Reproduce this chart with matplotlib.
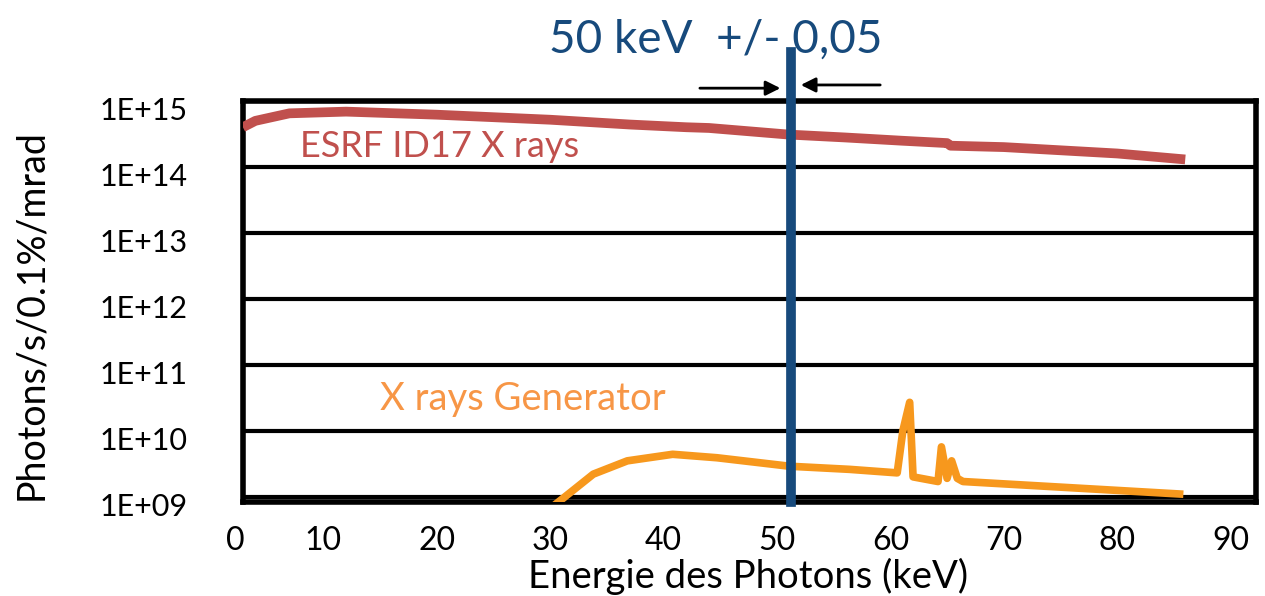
import matplotlib.pyplot as plt
from matplotlib.ticker import NullLocator
from matplotlib.transforms import ScaledTranslation

plt.rcParams['font.family'] = ['Lato', 'DejaVu Sans']

# ESRF ID17 synchrotron spectrum (keV, photons/s/0.1%/mrad)
esrf_kev = [2.9, 4.0, 7.0, 12.0, 20.0, 30.0, 37.0, 42.0, 44.0, 51.0, 56.0, 61.0, 65.0, 65.3, 70.0, 80.0, 86.0]
esrf_flux = [4.0e14, 5.0e14, 6.5e14, 6.9e14, 6.2e14, 5.2e14, 4.4e14, 4.0e14, 3.9e14, 3.1e14,
             2.8e14, 2.5e14, 2.3e14, 2.1e14, 2.0e14, 1.6e14, 1.3e14]

# X ray tube generator spectrum
gen_kev = [30.4, 33.8, 36.8, 40.8, 44.7, 51.1, 56.4, 60.6, 61.1, 61.7, 62.0, 64.2, 64.5, 65.0,
           65.4, 65.9, 66.4, 85.5]
gen_flux = [7.5e8, 2.2e9, 3.5e9, 4.4e9, 3.9e9, 2.9e9, 2.6e9, 2.3e9, 1.0e10, 2.7e10, 2.0e9,
            1.7e9, 5.7e9, 1.9e9, 3.5e9, 1.9e9, 1.7e9, 1.1e9]

selected_kev = 51.2
x_ticks = [10, 20, 30, 40, 50, 60, 70, 80, 90]
y_ticks = [1e9, 1e10, 1e11, 1e12, 1e13, 1e14, 1e15]
y_labels = ['1E+09', '1E+10', '1E+11', '1E+12', '1E+13', '1E+14', '1E+15']

fig = plt.figure(figsize=(12.65, 5.96), dpi=100)
ax = fig.add_axes([243 / 1265, 94 / 596, 1013 / 1265, 401 / 596])

ax.plot(esrf_kev, esrf_flux, color='#C0504D', lw=7, solid_capstyle='butt', zorder=3)
ax.plot(gen_kev, gen_flux, color='#F7981D', lw=5.5, solid_joinstyle='round', zorder=3)
ax.axvline(selected_kev, ymin=0, ymax=(502 - 52) / 401, color='#174A7C', lw=7,
           clip_on=False, zorder=4)

ax.set_yscale('log')
ax.set_xlim(2.91, 92.24)
ax.set_ylim(10 ** 8.92, 10 ** 14.98)
ax.set_yticks(y_ticks)
ax.set_yticklabels(y_labels)
ax.yaxis.set_minor_locator(NullLocator())
ax.set_xticks(x_ticks)
ax.set_xticklabels([str(v) for v in x_ticks])
ax.tick_params(axis='y', length=0, pad=40, labelsize=22)
ax.tick_params(axis='x', length=0, pad=17, labelsize=23)
for lab in ax.get_yticklabels():
    lab.set_transform(lab.get_transform() + ScaledTranslation(0, -8 / 100, fig.dpi_scale_trans))

ax.yaxis.grid(True, color='black', lw=3)
ax.set_axisbelow(True)
for sp in ax.spines.values():
    sp.set_linewidth(4)
    sp.set_color('black')

# the "0" label sits left of the plotting box
ax.annotate('0', xy=(2.2, 0), xycoords=('data', 'axes fraction'), xytext=(0, -17),
            textcoords='offset points', ha='center', va='top', fontsize=23, annotation_clip=False)

fig.text(748 / 1265, (596 - 588) / 596, 'Energie des Photons (keV)', ha='center', va='baseline', fontsize=27.5)
fig.text(31 / 1265, (596 - 315) / 596, 'Photons/s/0.1%/mrad', rotation=90, ha='center', va='center', fontsize=27)

fig.text(300 / 1265, (596 - 157) / 596, 'ESRF ID17 X rays', color='#C0504D', ha='left', va='baseline', fontsize=26)
fig.text(380 / 1265, (596 - 410) / 596, 'X rays Generator', color='#F79646', ha='left', va='baseline', fontsize=27.5)
fig.text(549 / 1265, (596 - 53) / 596, '50 keV  +/- 0,05', color='#174A7C', ha='left', va='baseline', fontsize=33)

arrow = dict(arrowstyle='-|>', color='black', lw=2, mutation_scale=22, shrinkA=0, shrinkB=0)
ax.annotate('', xy=(50.3, 1.032), xytext=(43.2, 1.032), xycoords=('data', 'axes fraction'),
            arrowprops=arrow, annotation_clip=False)
ax.annotate('', xy=(52.1, 1.04), xytext=(59.1, 1.04), xycoords=('data', 'axes fraction'),
            arrowprops=arrow, annotation_clip=False)

fig.savefig('out.png', dpi=100)
